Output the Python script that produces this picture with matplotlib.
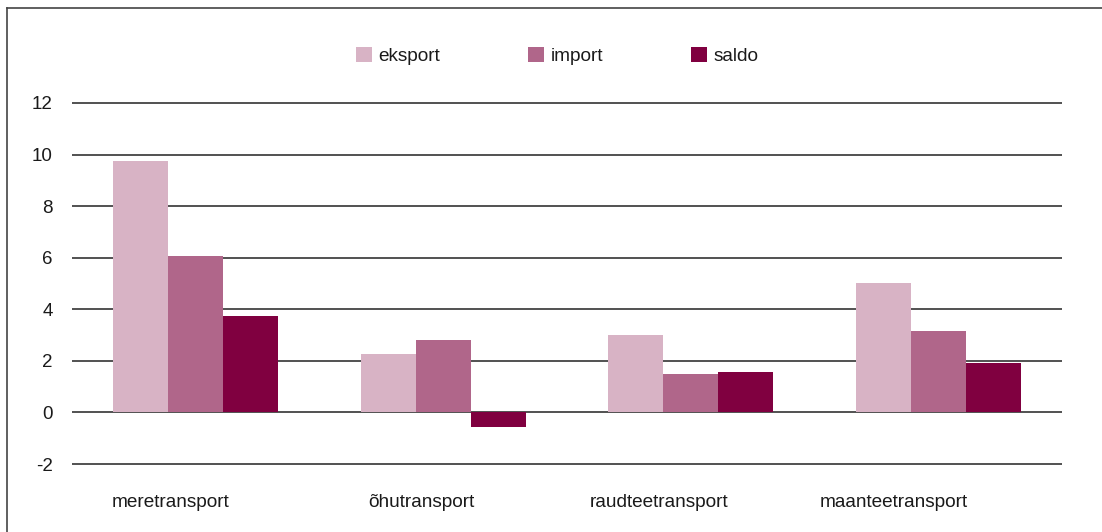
import matplotlib
matplotlib.use("Agg")
import matplotlib.pyplot as plt
import numpy as np
from matplotlib.lines import Line2D

plt.rcParams["font.family"] = ["Liberation Sans", "DejaVu Sans"]

categories = ["meretransport", "õhutransport", "raudteetransport", "maanteetransport"]
eksport = [9.75, 2.25, 2.99, 5.01]
import_ = [6.06, 2.80, 1.48, 3.15]
saldo = [3.73, -0.58, 1.55, 1.90]
series_names = ["eksport", "import", "saldo"]
colors = ["#D8B3C5", "#B0668A", "#800040"]
yticks = [-2, 0, 2, 4, 6, 8, 10, 12]
# category labels sit a bit left of the group centre in the original
label_shift = [-0.10, -0.09, -0.13, -0.18]

W, H = 1102, 532
fig = plt.figure(figsize=(W / 100, H / 100), dpi=100)
ax = fig.add_axes([72 / W, 1 - 465.3 / H, 990 / W, (465.3 - 101.7) / H])

x = np.arange(len(categories))
width = 0.222
for i, (vals, name, col) in enumerate(zip([eksport, import_, saldo], series_names, colors)):
    ax.bar(x + (i - 1) * width, vals, width, color=col, label=name, zorder=3)

ax.set_xlim(-0.5, len(categories) - 0.5)
ax.set_ylim(-2.05, 12.05)
ax.set_yticks(yticks)
ax.set_yticklabels([str(t) for t in yticks], fontsize=13.5, color="#1a1a1a")
ax.tick_params(axis="y", length=0, pad=14)
ax.set_xticks([])
for t in yticks:
    ax.axhline(t, color="#333333", linewidth=1.2, zorder=1)
for s in ax.spines.values():
    s.set_visible(False)

for i, cat in enumerate(categories):
    ax.text(i + label_shift[i], -3.5, cat, ha="center", va="center",
            fontsize=13.7, color="#1a1a1a", clip_on=False)

fig.legend(loc="center", bbox_to_anchor=(557 / W, 1 - 56 / H), ncol=3, frameon=False,
           fontsize=13.7, handlelength=0.85, handleheight=0.85, handletextpad=0.35,
           columnspacing=4.6, labelcolor="#1a1a1a")

# partial frame (top and left edges) as in the cropped original
fig.add_artist(Line2D([7 / W, 1], [1 - 8 / H, 1 - 8 / H], color="#444444", linewidth=1.2,
                      transform=fig.transFigure))
fig.add_artist(Line2D([7 / W, 7 / W], [0, 1 - 8 / H], color="#444444", linewidth=1.2,
                      transform=fig.transFigure))

fig.savefig("out.png", dpi=100)
